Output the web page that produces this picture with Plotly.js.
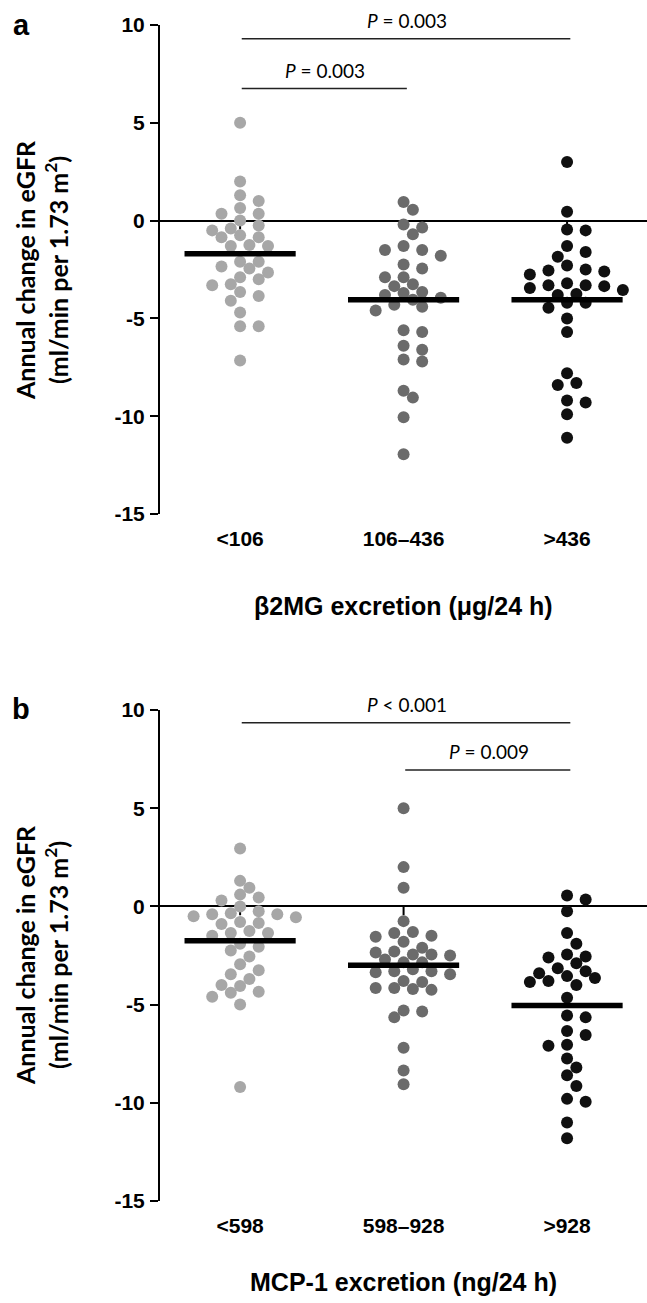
<!DOCTYPE html>
<html><head><meta charset="utf-8">
<script src="https://cdn.plot.ly/plotly-3.0.1.min.js"></script>
<style>html,body{margin:0;padding:0;background:#fff}</style>
</head><body><div id="chart" style="width:647px;height:1303px"></div>
<script>
// ---- data ----
const categoriesA = ['&lt;106', '106–436', '&gt;436'];
const categoriesB = ['&lt;598', '598–928', '&gt;928'];
const tickValsY = [10, 5, 0, -5, -10, -15];
const tickTextY = ['10', '5', '0', '-5', '-10', '-15'];

const b2mgLow = [5.0, 2.0, 1.3, 1.0, 0.65, 0.35, 0.35, 0.0, -0.25, -0.5, -0.4, -0.85, -0.85, -0.75, -1.25, -1.3, -1.3, -2.1, -2.1, -2.45, -2.35, -2.65, -2.9, -3.0, -3.25, -3.3, -3.65, -3.85, -4.1, -4.7, -5.4, -5.4, -7.15];
const b2mgMid = [0.95, 0.55, -0.2, -0.7, -0.35, -1.5, -1.8, -1.5, -1.3, -2.45, -2.25, -2.9, -2.9, -3.25, -3.35, -3.7, -3.65, -3.8, -4.05, -3.95, -4.4, -4.3, -4.6, -5.7, -5.6, -6.6, -6.4, -7.1, -7.2, -8.7, -9.05, -10.05, -11.95];
const b2mgHigh = [3.0, 0.45, -0.5, -0.45, -1.3, -1.6, -1.85, -2.5, -2.3, -2.6, -2.55, -2.75, -3.2, -3.3, -3.45, -3.35, -3.55, -3.3, -3.75, -3.8, -4.2, -4.45, -4.2, -5.0, -5.7, -7.8, -8.4, -8.3, -9.3, -9.2, -9.9, -11.1];
const b2mgMeans = [-1.7, -4.05, -4.05];

const mcpLow = [2.95, 1.3, 0.6, 0.45, 0.95, 0.3, 0.0, -0.55, -0.35, -0.4, -0.4, -0.25, -0.5, -0.85, -0.9, -0.8, -1.25, -1.35, -1.5, -1.35, -1.9, -2.05, -2.25, -2.55, -2.95, -3.25, -3.45, -3.7, -4.0, -4.05, -4.35, -4.6, -4.4, -5.0, -9.2];
const mcpMid = [5.0, 2.0, 0.95, -0.75, -1.55, -1.35, -1.3, -1.8, -1.5, -2.45, -2.1, -2.5, -2.3, -2.7, -2.45, -2.35, -2.85, -2.85, -3.35, -3.2, -3.3, -3.45, -3.3, -3.8, -4.15, -4.2, -4.25, -4.15, -3.85, -5.3, -5.65, -5.35, -7.2, -8.35, -9.05];
const mcpHigh = [0.35, 0.55, -0.25, -1.35, -1.9, -2.55, -2.6, -2.9, -2.45, -3.15, -3.4, -3.65, -3.55, -3.3, -3.8, -4.0, -3.85, -4.65, -5.65, -5.55, -6.35, -6.55, -7.05, -7.1, -7.75, -8.2, -8.6, -9.15, -9.8, -9.95, -11.0, -11.8];
const mcpMeans = [-1.75, -3.0, -5.05];

const pLabelsA = ['<i>P</i> = 0.003', '<i>P</i> = 0.003'];
const pLabelsB = ['<i>P</i> &lt; 0.001', '<i>P</i> = 0.009'];

// ---- layout geometry ----
const W = 647, H = 1303;
const M = {l: 160, r: 0, t: 25, b: 102};
const plotH = H - M.t - M.b;
const plotW = W - M.l - M.r;
const xRange = [-0.49, 2.489];
const yRange = [-15, 10];
const domB = [0, (H - M.b - 710) / plotH];
const domA = [(H - M.b - 514) / plotH, 1];
const colors = ['#a7a7a7', '#6b6b6b', '#101010'];
const dotD = 12;

const pxPerX = plotW / (xRange[1] - xRange[0]);
function pxPerY(dom) { return plotH * (dom[1] - dom[0]) / (yRange[1] - yRange[0]); }

function swarm(vals, pyu) {
  const step = 9.3, minD = 11.2;
  const order = vals.map((v, i) => i).sort((i, j) => vals[j] - vals[i]);
  const placed = [], off = new Array(vals.length).fill(0);
  order.forEach(i => {
    const y = vals[i] * pyu;
    for (let k = 0; k < 60; k++) {
      const m = k === 0 ? 0 : (k % 2 ? Math.ceil(k / 2) : -Math.ceil(k / 2));
      const x = m * step;
      if (placed.every(p => Math.hypot(p[0] - x, p[1] - y) >= minD)) {
        placed.push([x, y]); off[i] = x / pxPerX; break;
      }
    }
  });
  return off;
}

const traces = [], shapes = [], annotations = [];
function panel(groups, means, xa, ya, dom) {
  const pyu = pxPerY(dom);
  groups.forEach((vals, g) => {
    const off = swarm(vals, pyu);
    traces.push({type: 'scatter', mode: 'markers', xaxis: xa, yaxis: ya,
      x: vals.map((v, i) => g + off[i]), y: vals,
      marker: {size: dotD, color: colors[g], line: {width: 0}}, hoverinfo: 'y', showlegend: false});
  });
  means.forEach((m, g) => {
    traces.push({type: 'scatter', mode: 'lines', xaxis: xa, yaxis: ya,
      x: [g - 0.34, g + 0.34], y: [m, m], line: {color: '#000', width: 5.5}, showlegend: false, hoverinfo: 'skip'});
    shapes.push({type: 'line', xref: xa, yref: ya, x0: g, x1: g, y0: 0, y1: -0.45, line: {color: '#000', width: 2}, layer: 'below'});
  });
}
panel([b2mgLow, b2mgMid, b2mgHigh], b2mgMeans, 'x', 'y', domA);
panel([mcpLow, mcpMid, mcpHigh], mcpMeans, 'x2', 'y2', domB);

function bracket(xa, ya, g0, g1, yv, label) {
  shapes.push({type: 'line', xref: xa, yref: ya, x0: g0 + 0.01, x1: g1 + 0.02, y0: yv, y1: yv, line: {color: '#222', width: 1.5}});
  annotations.push({xref: xa, yref: ya, x: (g0 + g1) / 2 + 0.02, y: yv, yshift: 5, yanchor: 'bottom', xanchor: 'center',
    text: label, showarrow: false, font: {family: 'Lato, Open Sans, sans-serif', size: 19, color: '#000'}});
}
bracket('x', 'y', 0, 2, 9.3, pLabelsA[0]);
bracket('x', 'y', 0, 1, 6.75, pLabelsA[1]);
bracket('x2', 'y2', 0, 2, 9.35, pLabelsB[0]);
bracket('x2', 'y2', 1, 2, 6.95, pLabelsB[1]);

const tickFont = {family: 'Liberation Sans, Arial, sans-serif', size: 21, color: '#000', weight: 'bold'};
const titleFont = {family: 'Liberation Sans, Arial, sans-serif', size: 25, color: '#000', weight: 'bold'};
const ytFont = {family: 'Lato, Open Sans, sans-serif', size: 25, color: '#000', weight: 'bold'};

function xaxis(cats, anchor) {
  return {range: xRange, anchor: anchor, showline: false, showgrid: false, zeroline: false, ticks: '',
    tickmode: 'array', tickvals: [0, 1, 2], ticktext: cats, tickfont: tickFont, ticklabelstandoff: 10, fixedrange: true};
}
function yaxis(dom, anchor) {
  return {domain: dom, range: yRange, anchor: anchor, showline: true, linecolor: '#000', linewidth: 2,
    ticks: 'outside', ticklen: 8, tickwidth: 2, tickcolor: '#000', tickmode: 'array', tickvals: tickValsY, ticktext: tickTextY,
    tickfont: tickFont, showgrid: false, zeroline: true, zerolinecolor: '#000', zerolinewidth: 2, ticklabelstandoff: 1, fixedrange: true};
}

function paperY(px) { return (H - M.b - px) / plotH; }
function paperX(px) { return (px - M.l) / plotW; }

const yTitle = 'Annual change in eGFR<br>(ml/min per 1.73 m<sup>2</sup>)';
annotations.push({xref: 'paper', yref: 'paper', x: paperX(41), y: paperY(270), textangle: -90, text: yTitle, showarrow: false,
  xanchor: 'center', yanchor: 'middle', font: ytFont});
annotations.push({xref: 'paper', yref: 'paper', x: paperX(41), y: paperY(955), textangle: -90, text: yTitle, showarrow: false,
  xanchor: 'center', yanchor: 'middle', font: ytFont});
annotations.push({xref: 'paper', yref: 'paper', x: 0.5, y: paperY(606), text: 'β2MG excretion (μg/24 h)', showarrow: false,
  xanchor: 'center', yanchor: 'middle', font: titleFont});
annotations.push({xref: 'paper', yref: 'paper', x: 0.5, y: paperY(1282), text: 'MCP-1 excretion (ng/24 h)', showarrow: false,
  xanchor: 'center', yanchor: 'middle', font: titleFont});
annotations.push({xref: 'paper', yref: 'paper', x: paperX(21), y: paperY(25), text: 'a', showarrow: false,
  xanchor: 'center', yanchor: 'middle', font: {family: 'Liberation Sans, Arial, sans-serif', size: 29, color: '#000', weight: 'bold'}});
annotations.push({xref: 'paper', yref: 'paper', x: paperX(21), y: paperY(709), text: 'b', showarrow: false,
  xanchor: 'center', yanchor: 'middle', font: {family: 'Liberation Sans, Arial, sans-serif', size: 29, color: '#000', weight: 'bold'}});

const layout = {
  width: W, height: H, margin: M, paper_bgcolor: '#fff', plot_bgcolor: 'rgba(0,0,0,0)', showlegend: false,
  xaxis: xaxis(categoriesA, 'y'), yaxis: yaxis(domA, 'x'),
  xaxis2: xaxis(categoriesB, 'y2'), yaxis2: yaxis(domB, 'x2'),
  shapes: shapes, annotations: annotations
};
Plotly.newPlot('chart', traces, layout, {displayModeBar: false, staticPlot: true});
</script></body></html>
